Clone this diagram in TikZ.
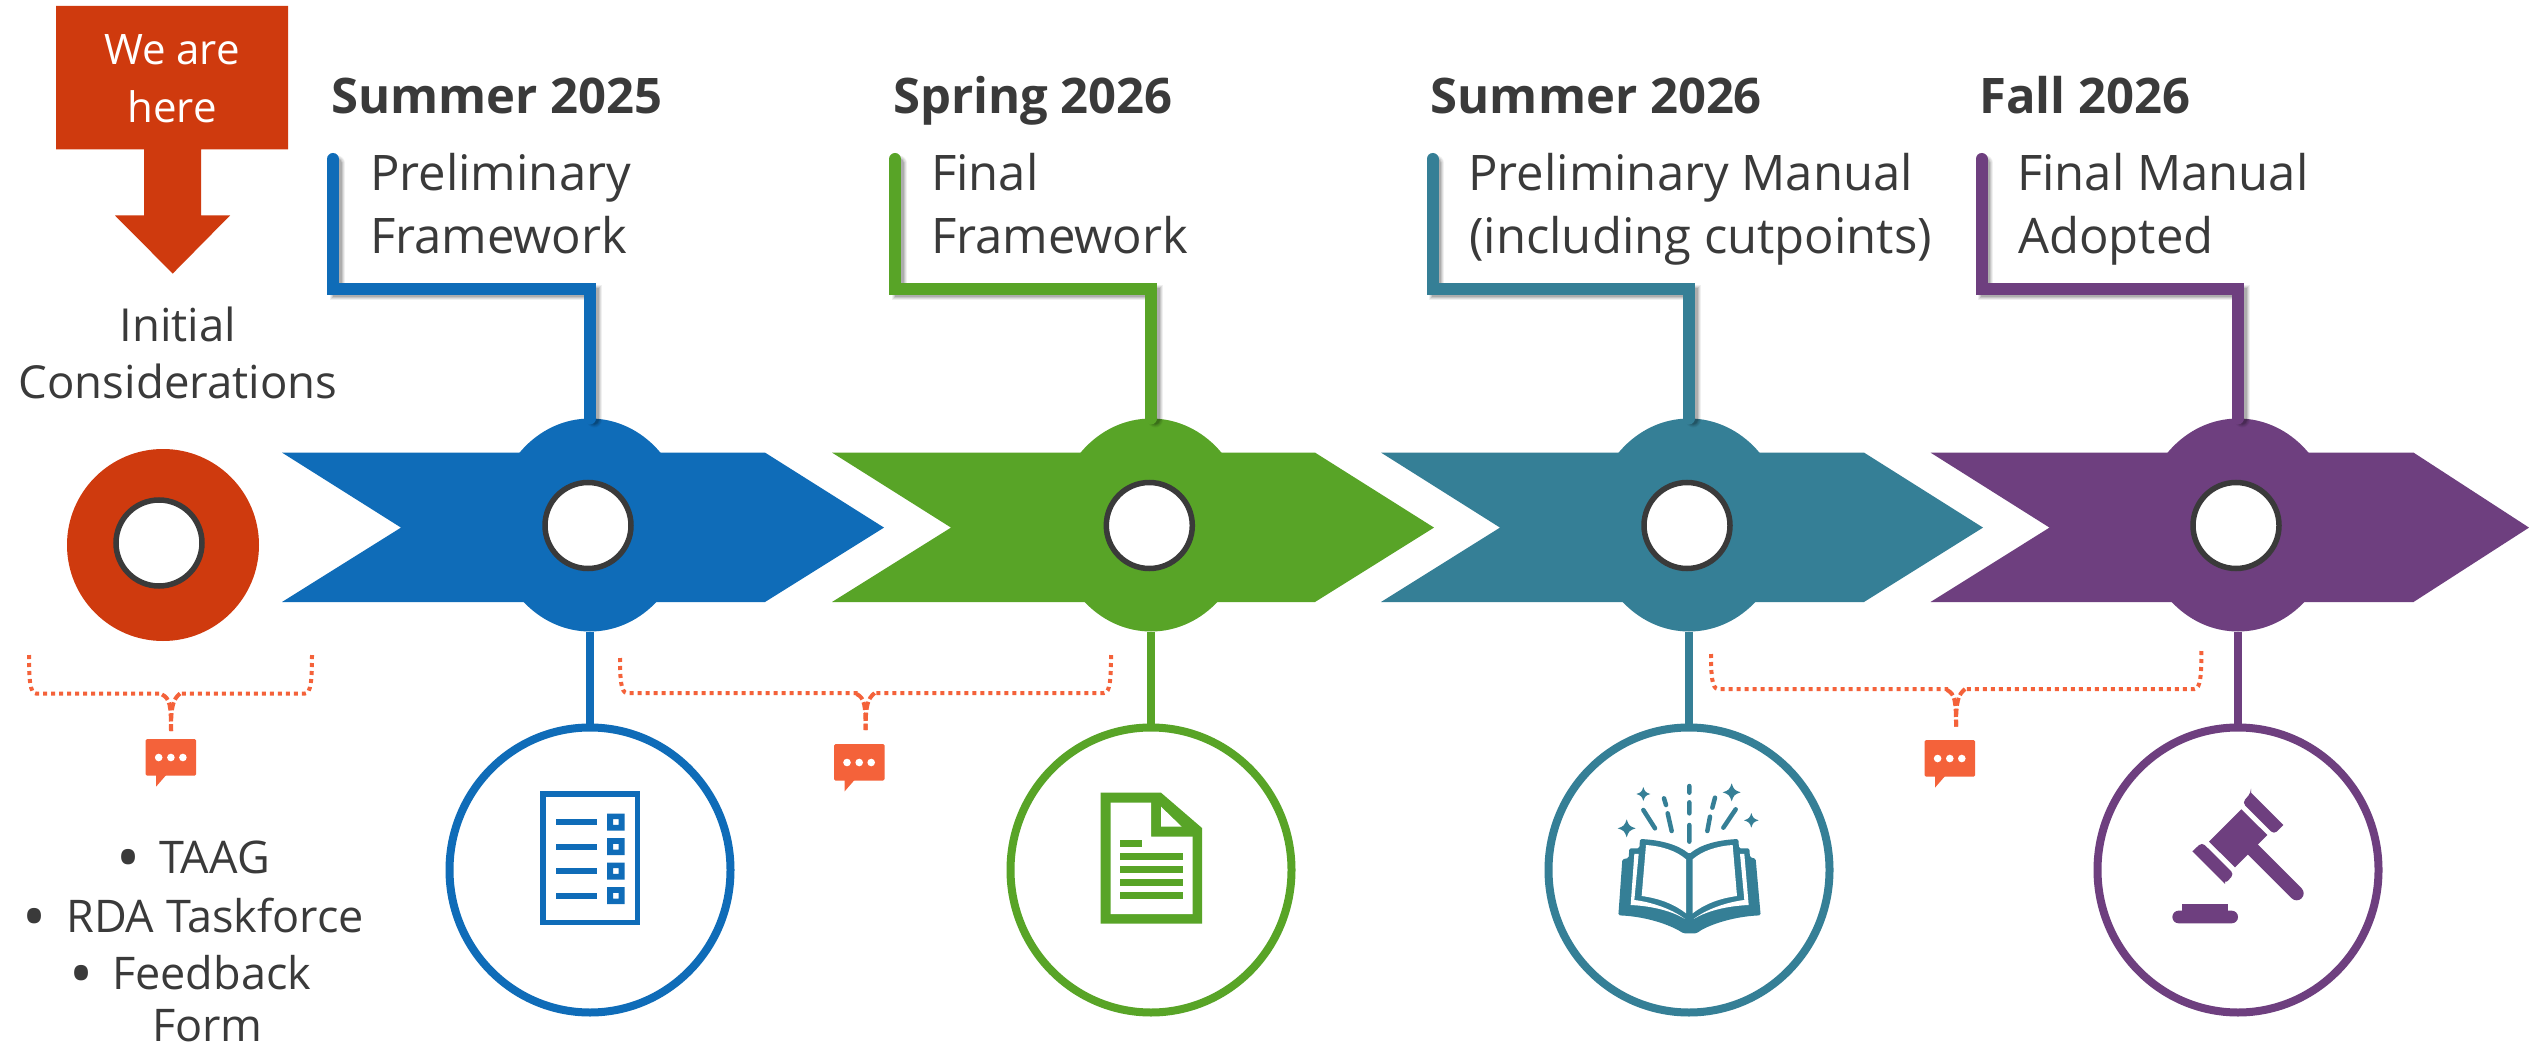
\documentclass[tikz,border=0pt]{standalone}
\usepackage{fontspec}
\setmainfont{Open Sans}
\usetikzlibrary{shapes.geometric}
\definecolor{cblue}{HTML}{0F6CB8}
\definecolor{cgreen}{HTML}{58A427}
\definecolor{cteal}{HTML}{357F96}
\definecolor{cpurple}{HTML}{6E3F7F}
\definecolor{cred}{HTML}{CF3A0E}
\definecolor{corange}{HTML}{F4623A}
\definecolor{ctext}{HTML}{3A3A3A}
\tikzset{x=1pt,y=-1pt,
 txt/.style={font=\fontsize{49}{49}\selectfont,text=ctext,inner sep=0pt,anchor=base west},
 ctxt/.style={font=\fontsize{45.5}{45.5}\selectfont,text=ctext,inner sep=0pt,anchor=base},
 ltxt/.style={font=\fontsize{45}{45}\selectfont,text=ctext,inner sep=0pt,anchor=base west},
 btxt/.style={font=\fontsize{64}{64}\selectfont,text=ctext,inner sep=0pt,anchor=base},
 wtxt/.style={font=\fontsize{42}{42}\selectfont,text=white,inner sep=0pt,anchor=base},
 heading/.style={font=\fontsize{49}{49}\selectfont\bfseries,text=ctext,inner sep=0pt,anchor=base west},
 hole/.style={circle,draw=ctext,line width=5.5pt,fill=white,minimum size=86pt,inner sep=0pt},
 hub/.style={ellipse,minimum width=192pt,minimum height=213pt,inner sep=0pt,outer sep=0pt},
 ring/.style={ellipse,line width=8pt,fill=white,minimum width=281pt,minimum height=285pt,inner sep=0pt},
 bracedots/.style={draw=corange,line width=4pt,dash pattern=on 4pt off 4pt},
 bracedash/.style={draw=corange,line width=4pt,dash pattern=on 8pt off 3pt},
}
% colour, name, left, hub x, hole x, tip offset
\newcommand{\stageblock}[6]{%
 \fill[#1] (#3,452.6) -- (#3+483,452.6) -- (#3+#6,527.6) -- (#3+483,602) -- (#3,602) -- (#3+119,527.6) -- cycle;
 \node[hub,fill=#1] (hub#2) at (#4,525) {};
 \node[hole] (hole#2) at (#5,525.5) {};
 \node[ring,draw=#1] (ring#2) at (#4,870) {};
 \draw[#1,line width=8pt] (hub#2.south) -- (ring#2.north);
}
% colour, name, line x (left), hub x
\newcommand{\stageline}[4]{%
 \coordinate (top#2) at (#3,159);
 \coordinate (elbowa#2) at (#3,289);
 \coordinate (elbowb#2) at (#4,289);
 \coordinate (foot#2) at (#4,416);
 \foreach \w/\o in {15/.06,13/.08,11/.10,9/.12}{
  \draw[black,opacity=\o,line width=\w pt,line join=miter,line cap=round]
   ([shift={(4,4)}]top#2) -- ([shift={(4,4)}]elbowa#2) -- ([shift={(4,4)}]elbowb#2) -- ([shift={(4,4)}]foot#2);
 }
 \draw[#1,line width=12pt,line join=miter,line cap=round] (top#2) -- (elbowa#2) -- (elbowb#2) -- (hub#2.north);
}
% name, left, left top, right, right top, bottom, centre, stalk bottom
\newcommand{\bracket}[8]{%
 \coordinate (bla#1) at (#2,#3);
 \coordinate (bra#1) at (#4,#5);
 \coordinate (bst#1) at (#7,#8);
 \path[bracedots] (bla#1) .. controls (#2,#6-14) and (#2+1,#6) .. (#2+7,#6) -- (#7-8,#6);
 \path[bracedots] (bra#1) .. controls (#4,#6-14) and (#4-1,#6) .. (#4-7,#6) -- (#7+8,#6);
 \path[bracedash] (#7-9,#6+1) .. controls (#7-1,#6+5) and (#7,#6+12) .. (bst#1);
 \path[bracedash] (#7+9,#6) .. controls (#7+2,#6+6) and (#7,#6+12) .. (bst#1);
}
% left, top
\newcommand{\bubble}[2]{%
 \fill[corange,rounded corners=1.5pt] (#1,#2) rectangle (#1+50.5,#2+36.7);
 \fill[corange] (#1+10.5,#2+36) -- (#1+10.5,#2+47.5) -- (#1+20.5,#2+36) -- cycle;
 \fill[white] (#1+13,#2+18.5) circle (3.8pt) (#1+25.2,#2+18.5) circle (3.8pt) (#1+37.2,#2+18.5) circle (3.8pt);
}
\newcommand{\spark}[3]{%
 \fill[shift={(#1,#2)},x=#3*.3333pt,y=#3*.3333pt] (0,-1) .. controls (.22,-.32) and (.32,-.22) .. (1,0) .. controls (.32,.22) and (.22,.32) .. (0,1) .. controls (-.22,.32) and (-.32,.22) .. (-1,0) .. controls (-.32,-.22) and (-.22,-.32) .. (0,-1) -- cycle;
}
\begin{document}
\begin{tikzpicture}
\useasboundingbox (0,0) rectangle (2529,1048);
\fill[white] (0,0) rectangle (2529,1048);

% We are here
\fill[cred] (56,6) -- (288,6) -- (288,149.5) -- (201,149.5) -- (201,215.5) -- (230,215.5) -- (172.7,273.6) -- (115,215.5) -- (144,215.5) -- (144,149.5) -- (56,149.5) -- cycle;
\node[wtxt] (here1) at (172,64.5) {We are};
\node[wtxt] (here2) at (172,122.6) {here};
\node[ctxt] (init1) at (178,342) {Initial};
\node[ctxt] (init2) at (178,398) {Considerations};
\node[circle,fill=cred,minimum size=192pt,inner sep=0pt] (hubred) at (163,545) {};
\node[hole] (holered) at (159,543) {};

% stages
\stageblock{cblue}{a}{282}{590}{588}{602}
\stageblock{cgreen}{b}{832}{1151}{1149.3}{602}
\stageblock{cteal}{c}{1381}{1689}{1687}{602}
\stageblock{cpurple}{d}{1930.5}{2238}{2236}{598.5}
\stageline{cblue}{a}{333}{590}
\stageline{cgreen}{b}{895}{1151}
\stageline{cteal}{c}{1432.5}{1689}
\stageline{cpurple}{d}{1981.5}{2238}

% headings
\node[heading] (ha) at (331,114) {Summer 2025};
\node[heading] (hb) at (893,114) {Spring 2026};
\node[heading] (hc) at (1430.5,114) {Summer 2026};
\node[heading] (hd) at (1979,114) {Fall 2026};
\node[txt] (ta1) at (370,190.5) {Preliminary};
\node[txt] (ta2) at (370,254) {Framework};
\node[txt] (tb1) at (931,190.5) {Final};
\node[txt] (tb2) at (931,254) {Framework};
\node[txt] (tc1) at (1468,190.5) {Preliminary Manual};
\node[txt] (tc2) at (1469,254) {(including cutpoints)};
\node[txt] (td1) at (2017,190.5) {Final Manual};
\node[txt] (td2) at (2018,254) {Adopted};

% bullets
\node[btxt] (b1) at (128.6,880.5) {•};
\node[ltxt] (l1) at (159,873) {TAAG};
\node[btxt] (b2) at (34.7,939.5) {•};
\node[ltxt] (l2) at (66,932) {RDA Taskforce};
\node[btxt] (b3) at (81.6,996.5) {•};
\node[ltxt] (l3) at (112,989) {Feedback};
\node[ltxt] (l4) at (152,1041) {Form};

% brackets and bubbles
\bracket{p}{29}{655}{312}{655}{693.5}{171}{731}
\bubble{145.7}{739}
\bracket{q}{620}{658}{1111}{655}{693}{865.6}{730}
\bubble{834}{744}
\bracket{r}{1711}{654}{2201.4}{651}{689}{1956}{726.7}
\bubble{1924.6}{740}

% list icon
\begin{scope}[cblue]
 \draw[line width=5.5pt] (542.75,793.75) rectangle (637.25,922.25);
 \foreach \y in {822,846.7,871,895.7}{
  \fill (556,\y-3) rectangle (597,\y+3);
  \fill[even odd rule] (607,\y-8.5) rectangle (624.5,\y+8.5) (613,\y-2.8) rectangle (618.5,\y+2.8);
 }
\end{scope}

% document icon
\begin{scope}[cgreen]
 \fill (1100.7,792.7) -- (1161,792.7) -- (1202,828) -- (1202,923.7) -- (1100.7,923.7) -- cycle;
 \fill[white] (1110.7,802.7) -- (1151,802.7) -- (1151,836.7) -- (1192.7,836.7) -- (1192.7,914) -- (1110.7,914) -- cycle;
 \fill[white] (1161,806.7) -- (1181.7,826.7) -- (1161,826.7) -- cycle;
 \fill (1120,839.8) rectangle (1142,846.8);
 \foreach \y in {856.3,869.3,882.3,895.3}{ \fill (1120,\y-3.5) rectangle (1183,\y+3.5); }
\end{scope}

% book icon
\begin{scope}[shift={(1590,770)},x=.3333pt,y=-.3333pt,cteal]
 \fill[rounded corners=1.5pt] (97,268) -- (85,436) .. controls (180,440) and (250,470) .. (280,490) -- (320,490) .. controls (345,470) and (420,440) .. (512,436) -- (497,266) -- (480,262) -- (478,235) -- (447,235) -- (445,207) .. controls (380,210) and (330,225) .. (298,252) .. controls (265,225) and (215,210) .. (150,207) -- (148,235) -- (118,235) -- (116,264) -- cycle;
 \fill[white] (168,225) .. controls (215,228) and (260,243) .. (288,268) -- (288,430) .. controls (250,400) and (205,385) .. (155,378) -- cycle;
 \fill[white] (428,225) .. controls (381,228) and (336,243) .. (308,268) -- (308,430) .. controls (346,400) and (391,385) .. (441,378) -- cycle;
 \fill[white] (133,252) -- (146,252) -- (133,390) .. controls (190,397) and (250,420) .. (285,447) .. controls (240,420) and (180,408) .. (122,405) -- cycle;
 \fill[white] (463,252) -- (450,252) -- (463,390) .. controls (406,397) and (346,420) .. (311,447) .. controls (356,420) and (416,408) .. (476,405) -- cycle;
 \draw[line width=4.5pt,line cap=round]
   (298,48) -- (298,68) (298,97) -- (298,130) (298,165) -- (298,215)
   (222,85) -- (228,105) (233,130) -- (245,183) (160,120) -- (195,175)
   (375,83) -- (367,113) (360,140) -- (352,183) (437,118) -- (400,173);
 \spark{160}{72}{21}
 \spark{110}{175}{27}
 \spark{425}{67}{27}
 \spark{484}{151}{22}
\end{scope}

% gavel icon
\begin{scope}[shift={(2140,780)},x=.3333pt,y=-.3333pt,cpurple]
 \fill (304,88) -- (382,165) -- (285,262) -- (207,185) -- cycle;
 \draw[line width=14pt,line cap=round] (330,200) -- (470,340);
 \fill (255,312) -- (157,214) [rounded corners=4pt] -- (186,187) -- (282,282) -- (255,312) [sharp corners] -- cycle;
 \fill (333,38) -- (430,135) [rounded corners=4pt] -- (402,163) -- (307,68) -- (333,38) [sharp corners] -- cycle;
 \fill[rounded corners=6.3pt] (97,392) rectangle (294,430);
 \fill (127,372) rectangle (265,400);
\end{scope}
\end{tikzpicture}
\end{document}
